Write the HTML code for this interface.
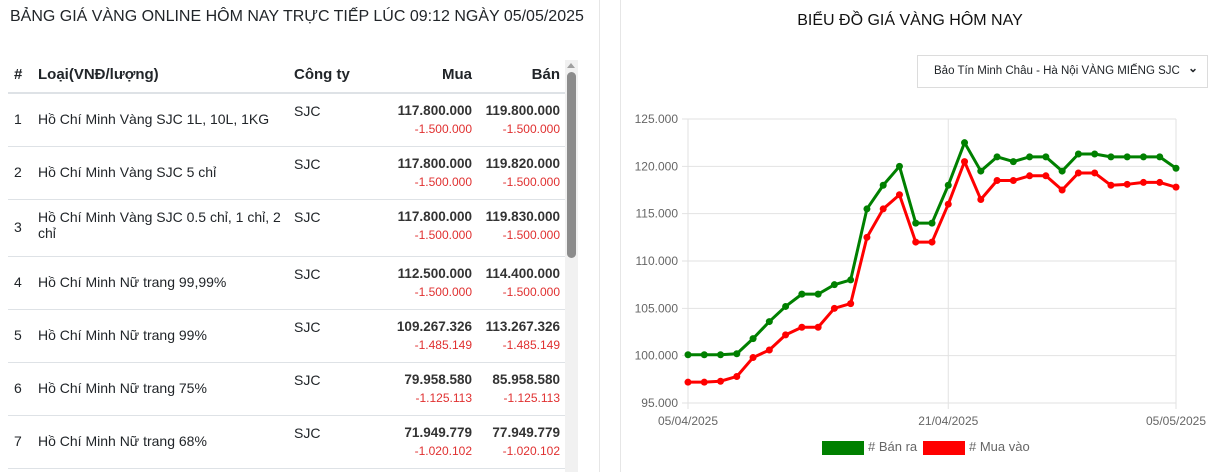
<!DOCTYPE html>
<html><head><meta charset="utf-8"><style>
body{margin:0;width:1224px;height:472px;overflow:hidden;background:#fff;font-family:"Liberation Sans","Noto Sans CJK SC",sans-serif;color:#212529;position:relative}
.abs{position:absolute}
h1{position:absolute;left:10px;top:8px;margin:0;font-size:16px;font-weight:normal;white-space:nowrap}
table{position:absolute;left:8px;top:56px;width:558px;border-collapse:collapse;font-size:14px;table-layout:fixed}
th{font-weight:bold;font-size:15px;height:36px;text-align:left;border-bottom:2px solid #dee2e6;padding:0 6px}
td{vertical-align:top;padding:9px 6px 0;border-bottom:1px solid #dee2e6}
td.m{padding-top:17px}
.r{text-align:right}
.p{font-weight:bold;font-size:13.5px;color:#333}
.d{color:#e03030;font-size:12px;display:block;margin-top:4px;font-weight:normal}
</style></head><body>
<h1>BẢNG GIÁ VÀNG ONLINE HÔM NAY TRỰC TIẾP LÚC 09:12 NGÀY 05/05/2025</h1>
<table>
<colgroup><col style="width:24px"><col style="width:256px"><col style="width:90px"><col style="width:100px"><col style="width:88px"></colgroup>
<tr><th>#</th><th>Loại(VNĐ/lượng)</th><th>Công ty</th><th class="r">Mua</th><th class="r">Bán</th></tr>
<tr style="height:53px"><td class="m">1</td><td class="m">Hồ Chí Minh Vàng SJC 1L, 10L, 1KG</td><td>SJC</td><td class="r p">117.800.000<span class="d">-1.500.000</span></td><td class="r p">119.800.000<span class="d">-1.500.000</span></td></tr>
<tr style="height:53px"><td class="m">2</td><td class="m">Hồ Chí Minh Vàng SJC 5 chỉ</td><td>SJC</td><td class="r p">117.800.000<span class="d">-1.500.000</span></td><td class="r p">119.820.000<span class="d">-1.500.000</span></td></tr>
<tr style="height:57px"><td style="padding-top:19px">3</td><td>Hồ Chí Minh Vàng SJC 0.5 chỉ, 1 chỉ, 2 chỉ</td><td>SJC</td><td class="r p">117.800.000<span class="d">-1.500.000</span></td><td class="r p">119.830.000<span class="d">-1.500.000</span></td></tr>
<tr style="height:53px"><td class="m">4</td><td class="m">Hồ Chí Minh Nữ trang 99,99%</td><td>SJC</td><td class="r p">112.500.000<span class="d">-1.500.000</span></td><td class="r p">114.400.000<span class="d">-1.500.000</span></td></tr>
<tr style="height:53px"><td class="m">5</td><td class="m">Hồ Chí Minh Nữ trang 99%</td><td>SJC</td><td class="r p">109.267.326<span class="d">-1.485.149</span></td><td class="r p">113.267.326<span class="d">-1.485.149</span></td></tr>
<tr style="height:53px"><td class="m">6</td><td class="m">Hồ Chí Minh Nữ trang 75%</td><td>SJC</td><td class="r p">79.958.580<span class="d">-1.125.113</span></td><td class="r p">85.958.580<span class="d">-1.125.113</span></td></tr>
<tr style="height:53px"><td class="m">7</td><td class="m">Hồ Chí Minh Nữ trang 68%</td><td>SJC</td><td class="r p">71.949.779<span class="d">-1.020.102</span></td><td class="r p">77.949.779<span class="d">-1.020.102</span></td></tr>
</table>
<div class="abs" style="left:565px;top:60px;width:13px;height:412px;background:#f1f1f1"></div>
<div class="abs" style="left:567px;top:72px;width:9px;height:186px;background:#8c8c8c;border-radius:5px"></div>
<div class="abs" style="left:567px;top:63px;width:0;height:0;border:4px solid transparent;border-bottom:5px solid #a0a0a0;border-top:0"></div>
<div class="abs" style="left:599px;top:0;width:1px;height:472px;background:#e6e6e6"></div>
<div class="abs" style="left:620px;top:0;width:1px;height:472px;background:#e6e6e6"></div>
<div class="abs" style="left:621px;width:578px;top:12px;text-align:center;font-size:16px;color:#111">BIỂU ĐỒ GIÁ VÀNG HÔM NAY</div>
<div class="abs" style="left:917px;top:55px;width:291px;height:33px;border:1px solid #dcdcdc;box-sizing:border-box;font-size:11.5px;line-height:31px;padding-left:16px;white-space:nowrap;overflow:hidden">Bảo Tín Minh Châu - Hà Nội VÀNG MIẾNG SJC<span style="position:absolute;right:9px;top:-3px;font-size:12px;font-weight:bold">&#8964;</span></div>
<svg class="abs" style="left:0;top:0" width="1224" height="472" id="chart"></svg>
<script>
const dates=["05/04/2025","21/04/2025","05/05/2025"];
const dateIdx=[0,16,30];
const banRa=[100.1,100.1,100.1,100.2,101.8,103.6,105.2,106.5,106.5,107.5,108,115.5,118,120,114,114,118,122.5,119.5,121,120.5,121,121,119.5,121.3,121.3,121,121,121,121,119.8];
const muaVao=[97.2,97.2,97.3,97.8,99.8,100.6,102.2,103,103,105,105.5,112.5,115.5,117,112,112,116,120.5,116.5,118.5,118.5,119,119,117.5,119.3,119.3,118,118.1,118.3,118.3,117.8];
const yTicks=[95,100,105,110,115,120,125];
const X0=688,X1=1176,Y0=403,Y1=119,YMIN=95,YMAX=125;
const n=banRa.length;
const xs=i=>X0+(X1-X0)*i/(n-1);
const ys=v=>Y0-(Y0-Y1)*(v-YMIN)/(YMAX-YMIN);
const svg=document.getElementById('chart');
const NS='http://www.w3.org/2000/svg';
function mk(t,a){const e=document.createElementNS(NS,t);for(const k in a)e.setAttribute(k,a[k]);svg.appendChild(e);return e;}
yTicks.forEach(v=>{
 const l=mk('line',{x1:X0-6,x2:X1,y1:ys(v),y2:ys(v),stroke:'#e2e2e2'});
 
 
 const t=mk('text',{x:X0-10,y:ys(v)+4,'text-anchor':'end','font-size':12,fill:'#666','font-family':'Liberation Sans, sans-serif'});
 t.textContent=v.toFixed(3);
 
 
});
dates.forEach((d,k)=>{
 const x=xs(dateIdx[k]);
 const l=mk('line',{x1:x,x2:x,y1:Y1,y2:Y0+6,stroke:'#e2e2e2'});
 
 
 const t=mk('text',{x:x,y:Y0+22,'text-anchor':'middle','font-size':12,fill:'#666','font-family':'Liberation Sans, sans-serif'});
 t.textContent=d;
 
 
});
function series(arr,col,name){
 const p=mk('polyline',{points:arr.map((v,i)=>xs(i)+','+ys(v)).join(' '),fill:'none',stroke:col,'stroke-width':3,'stroke-linejoin':'round'});
 
 
 arr.forEach((v,i)=>{
  const c=mk('circle',{cx:xs(i),cy:ys(v),r:3.5,fill:col});
  
  
 });
}
series(banRa,'#008000','ban-ra');
series(muaVao,'#ff0000','mua-vao');
</script>
<div class="abs" style="left:822px;top:439px;font-size:13px;color:#666;line-height:15px"><span style="display:inline-block;width:42px;height:14px;background:#008000;vertical-align:middle;margin-right:4px"></span># Bán ra</div>
<div class="abs" style="left:923px;top:439px;font-size:13px;color:#666;line-height:15px"><span style="display:inline-block;width:42px;height:14px;background:#ff0000;vertical-align:middle;margin-right:4px"></span># Mua vào</div>
</body></html>
